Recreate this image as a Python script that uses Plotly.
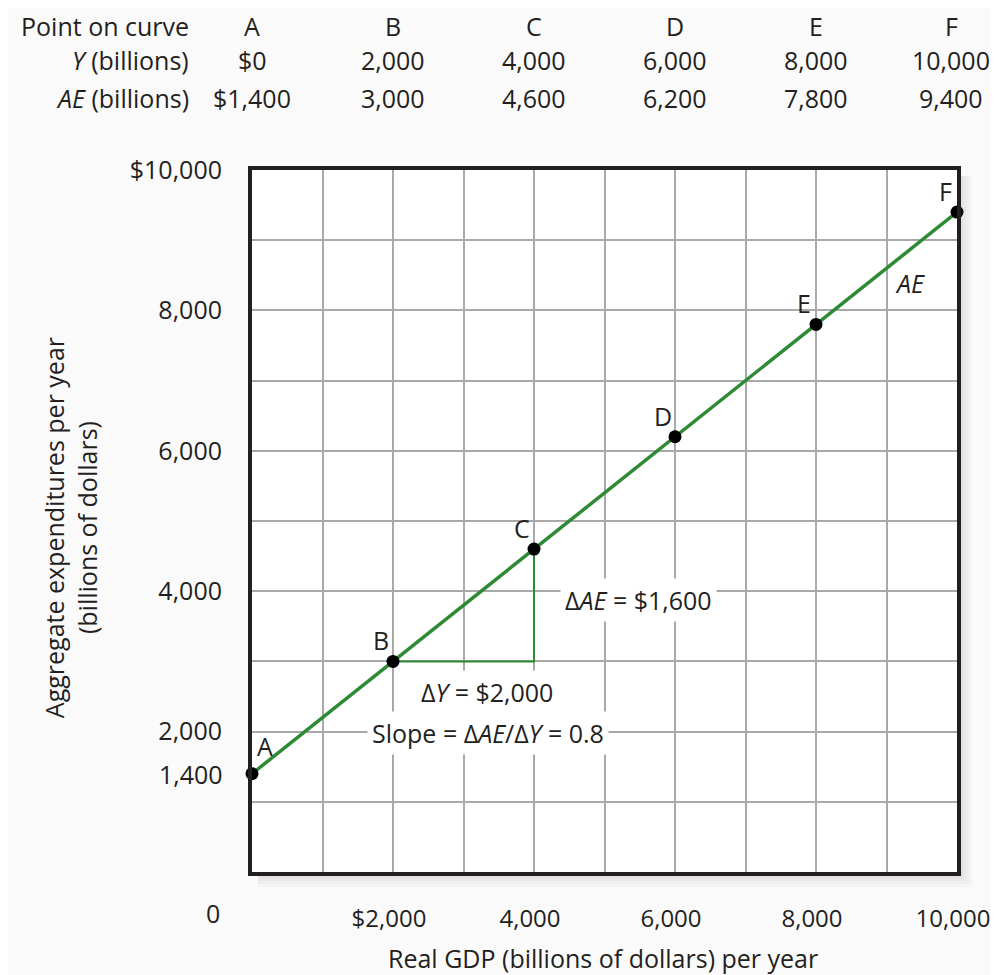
import plotly.graph_objects as go

# table / curve data
points = ["A", "B", "C", "D", "E", "F"]
gdp = [0, 2000, 4000, 6000, 8000, 10000]
ae = [1400, 3000, 4600, 6200, 7800, 9400]

grid_vals = list(range(0, 10001, 1000))
x_ticktext = ["", "", "$2,000", "", "4,000", "", "6,000", "", "8,000", "", "10,000"]
y_ticktext = ["", "", "2,000", "", "4,000", "", "6,000", "", "8,000", "", "$10,000"]

INK = "#231f20"
GREEN = "#2f8a35"
FONT = "Open Sans"
FS = 25

fig = go.Figure()

# slope triangle between B and C
fig.add_trace(go.Scatter(
    x=[gdp[1], gdp[2], gdp[2]],
    y=[ae[1], ae[1], ae[2]],
    mode="lines",
    line=dict(color=GREEN, width=2),
    hoverinfo="skip",
    showlegend=False,
))

# AE curve
fig.add_trace(go.Scatter(
    x=gdp,
    y=ae,
    mode="lines+markers",
    line=dict(color=GREEN, width=3.5),
    marker=dict(color="black", size=13),
    cliponaxis=False,
    hoverinfo="x+y",
    showlegend=False,
))

ann = []

def note(text, x, y, xref="x", yref="y", xanchor="center", yanchor="middle", **kw):
    ann.append(dict(text=text, x=x, y=y, xref=xref, yref=yref, xanchor=xanchor,
                    yanchor=yanchor, showarrow=False,
                    font=dict(family=FONT, size=FS, color=INK), **kw))

# point letters next to the markers
for i, p in enumerate(points):
    if i == 0:
        note(p, gdp[i], ae[i], xshift=13, yshift=28)
    else:
        note(p, gdp[i], ae[i], xshift=-12, yshift=21)

# table above the chart
rows_y = [1.205, 1.157, 1.103]
note("Point on curve", -0.086, rows_y[0], xref="paper", yref="paper", xanchor="right")
note("<i>Y</i> (billions)", -0.086, rows_y[1], xref="paper", yref="paper", xanchor="right")
note("<i>AE</i> (billions)", -0.086, rows_y[2], xref="paper", yref="paper", xanchor="right")
for i, p in enumerate(points):
    shift = -6 if i == len(points) - 1 else 0  # keep the last column inside the page
    note(p, gdp[i], rows_y[0], yref="paper", xshift=shift)
    g = f"${gdp[i]:,}" if i == 0 else f"{gdp[i]:,}"
    a = f"${ae[i]:,}" if i == 0 else f"{ae[i]:,}"
    note(g, gdp[i], rows_y[1], yref="paper", xshift=shift)
    note(a, gdp[i], rows_y[2], yref="paper", xshift=shift)

# extra axis labels
note("1,400", 0, ae[0], xref="paper", xanchor="right", xshift=-27)
note("0", 0, 0, xref="paper", yref="paper", xanchor="right", xshift=-30, yshift=-41)

# curve / slope labels
note("<i>AE</i>", 9330, 8390)
note("Δ<i>AE</i> = $1,600", 4370, 3875, xanchor="left", bgcolor="white", borderpad=4)
note("Δ<i>Y</i> = $2,000", 3330, 2564, bgcolor="white", borderpad=4)
note("Slope = Δ<i>AE</i>/Δ<i>Y</i> = 0.8", 3350, 1980, bgcolor="white", borderpad=4)

# axis titles
note("Aggregate expenditures per year<br>(billions of dollars)", -0.258, 0.49,
     xref="paper", yref="paper", textangle=-90)
note("Real GDP (billions of dollars) per year", 0.498, -0.123, xref="paper", yref="paper")

# soft shadow on the right and bottom of the plot box
shapes = []
px_x, px_y = 1 / 705, 1 / 702
for k in range(1, 6):
    w = 3 * k
    shapes.append(dict(type="rect", xref="paper", yref="paper", layer="below",
                       x0=1, x1=1 + w * px_x, y0=-w * px_y, y1=1 - 6 * px_y,
                       fillcolor="rgba(0,0,0,0.025)", line=dict(width=0)))
    shapes.append(dict(type="rect", xref="paper", yref="paper", layer="below",
                       x0=6 * px_x, x1=1, y0=-w * px_y, y1=0,
                       fillcolor="rgba(0,0,0,0.025)", line=dict(width=0)))

axis_common = dict(
    range=[0, 10000],
    tickvals=grid_vals,
    showgrid=True,
    gridcolor="#a9a9a9",
    gridwidth=1.5,
    zeroline=False,
    showline=True,
    linecolor=INK,
    linewidth=4,
    mirror=True,
    ticks="",
    automargin=False,
    fixedrange=True,
)

# the page body adds an 8px offset, so the figure is 8px smaller each way
fig.update_layout(
    width=991,
    height=967,
    autosize=False,
    margin=dict(l=244, r=42, t=162, b=103),
    paper_bgcolor="#fafafa",
    plot_bgcolor="white",
    font=dict(family=FONT, size=FS, color=INK),
    annotations=ann,
    shapes=shapes,
    xaxis=dict(axis_common, ticktext=x_ticktext, ticklabelstandoff=22,
               ticklabelshift=-4, tickfont=dict(family=FONT, size=24, color=INK)),
    yaxis=dict(axis_common, ticktext=y_ticktext, ticklabelstandoff=21,
               tickfont=dict(family=FONT, size=FS, color=INK)),
)

fig.write_html("out.html")
